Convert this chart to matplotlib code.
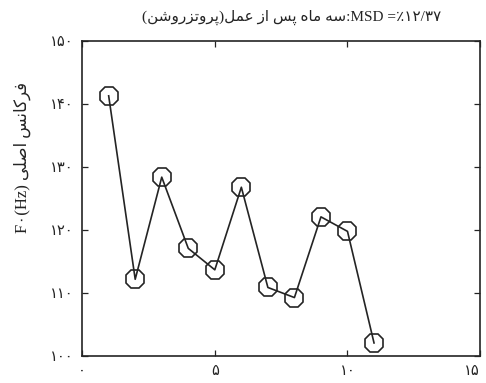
import matplotlib
matplotlib.use("Agg")
import matplotlib.pyplot as plt

# داده‌ها: شماره جلسه و فرکانس اصلی
session = [1, 2, 3, 4, 5, 6, 7, 8, 9, 10, 11]
f0_hz = [141.3, 112.2, 128.4, 117.1, 113.7, 126.8, 110.9, 109.3, 122.1, 119.8, 102.1]

x_ticks = [0, 5, 10, 15]
y_ticks = [100, 110, 120, 130, 140, 150]

title_fa = "سه ماه پس از عمل(پروتزروشن)"
msd_text = "MSD =٪۱۲/۳۷"
ylabel_fa = "فرکانس اصلی"

# فرم‌های نمایشی حروف: (تنها، پایانی، آغازی، میانی)
FORMS = {
    "ا": (0xFE8D, 0xFE8E, None, None),
    "پ": (0xFB56, 0xFB57, 0xFB58, 0xFB59),
    "ت": (0xFE95, 0xFE96, 0xFE97, 0xFE98),
    "ر": (0xFEAD, 0xFEAE, None, None),
    "ز": (0xFEAF, 0xFEB0, None, None),
    "س": (0xFEB1, 0xFEB2, 0xFEB3, 0xFEB4),
    "ش": (0xFEB5, 0xFEB6, 0xFEB7, 0xFEB8),
    "ص": (0xFEB9, 0xFEBA, 0xFEBB, 0xFEBC),
    "ع": (0xFEC9, 0xFECA, 0xFECB, 0xFECC),
    "ف": (0xFED1, 0xFED2, 0xFED3, 0xFED4),
    "ک": (0xFB8E, 0xFB8F, 0xFB90, 0xFB91),
    "ل": (0xFEDD, 0xFEDE, 0xFEDF, 0xFEE0),
    "م": (0xFEE1, 0xFEE2, 0xFEE3, 0xFEE4),
    "ن": (0xFEE5, 0xFEE6, 0xFEE7, 0xFEE8),
    "ه": (0xFEE9, 0xFEEA, 0xFEEB, 0xFEEC),
    "و": (0xFEED, 0xFEEE, None, None),
    "ی": (0xFBFC, 0xFBFD, 0xFBFE, 0xFBFF),
}


def fa(text):
    out = []
    for i, ch in enumerate(text):
        if ch not in FORMS:
            out.append(ch)
            continue
        prev = text[i - 1] if i > 0 else ""
        nxt = text[i + 1] if i + 1 < len(text) else ""
        join_prev = prev in FORMS and FORMS[prev][2] is not None
        join_next = FORMS[ch][2] is not None and nxt in FORMS
        iso, fin, ini, med = FORMS[ch]
        if join_prev and join_next:
            code = med
        elif join_prev:
            code = fin
        elif join_next:
            code = ini
        else:
            code = iso
        out.append(chr(code))
    vis = "".join(reversed(out))
    return vis.translate(str.maketrans("()", ")("))


def fa_num(n):
    return str(n).translate(str.maketrans("0123456789", "۰۱۲۳۴۵۶۷۸۹"))


fonts = ["Liberation Serif", "DejaVu Sans"]
ink = "#242424"

fig = plt.figure(figsize=(4.86, 3.83), dpi=100)
ax = fig.add_axes([0.169, 0.070, 0.819, 0.823])

ax.plot(session, f0_hz, color=ink, lw=1.2, marker="8", ms=14,
        mfc="none", mec=ink, mew=1.2)

ax.set_xlim(0, 15)
ax.set_ylim(100, 150)
ax.set_xticks(x_ticks)
ax.set_yticks(y_ticks)
ax.set_xticklabels([fa_num(v) for v in x_ticks], family=fonts, fontsize=10.5, color=ink)
ax.set_yticklabels([fa_num(v) for v in y_ticks], family=fonts, fontsize=10.5, color=ink)
ax.get_xticklabels()[-1].set_horizontalalignment("right")
ax.tick_params(direction="in", top=True, right=True, length=4, width=0.9,
               color=ink, pad=6)
for s in ax.spines.values():
    s.set_color(ink)
    s.set_linewidth(1.2)

fig.text(0.60, 0.955, fa(title_fa) + ":" + msd_text, ha="center", va="center",
         family=fonts, fontsize=11, color=ink)
fig.text(0.045, 0.59, "F۰(Hz) " + fa(ylabel_fa), ha="center", va="center",
         rotation=90, family=fonts, fontsize=12, color=ink)

fig.savefig("out.png", dpi=100)
